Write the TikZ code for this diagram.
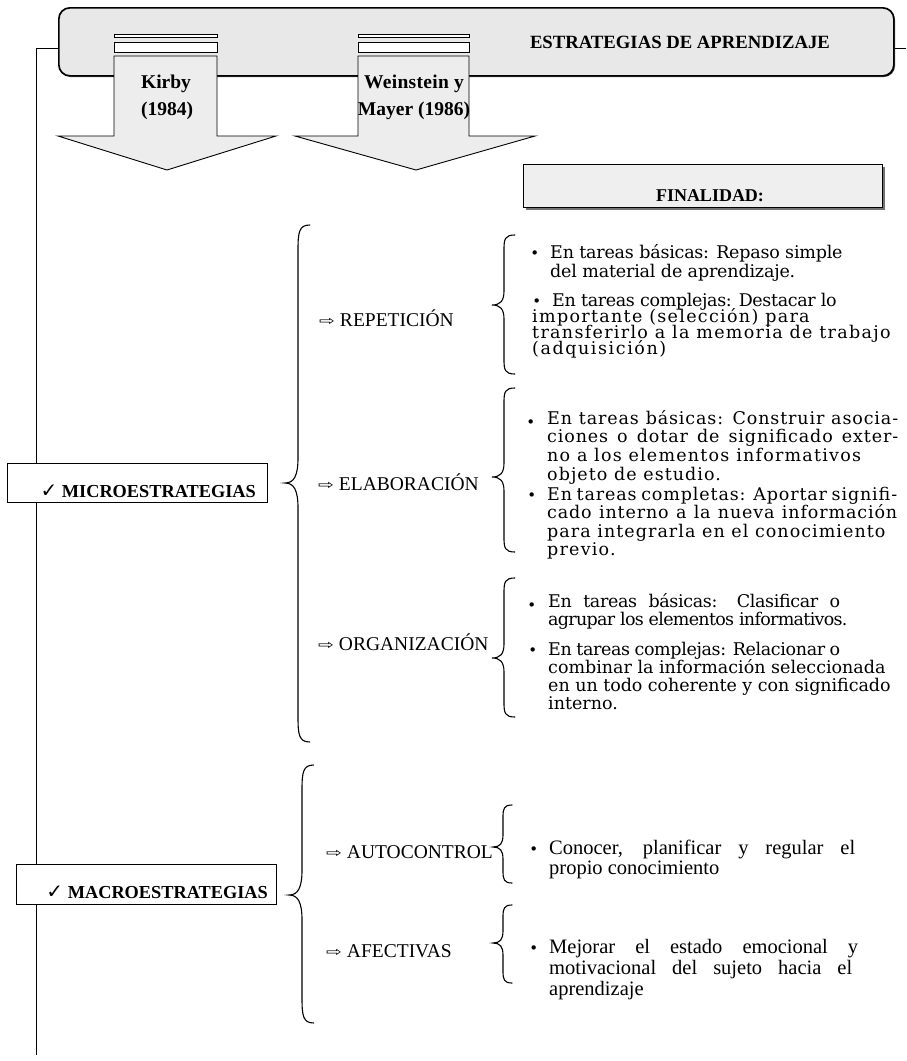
\documentclass[tikz,border=0pt]{standalone}
\usepackage{fontspec}
\setmainfont{Liberation Serif}
\newfontfamily\parafont{DejaVu Serif}
\newfontfamily\symfont{DejaVu Sans}
\definecolor{bannergray}{HTML}{E8E8E9}
\definecolor{arrowgray}{HTML}{EDEDEE}
\definecolor{fingray}{HTML}{EFEFF0}
\newcommand{\warr}{{\symfont\fontsize{13}{13}\selectfont\raisebox{0.5pt}{\scalebox{1.45}[1]{⇨}}}\hskip5pt}
\newcommand{\bul}{\llap{{\symfont\fontsize{15}{15}\selectfont •}\hskip11pt}}
\newcommand{\lbul}{\llap{{\symfont\fontsize{15}{15}\selectfont\raisebox{-3.5pt}{•}}\hskip12pt}}
\newcommand{\pline}[2]{\hbox{\addfontfeature{LetterSpace=#1}#2}}
\newcommand{\plinew}[3]{\hbox to #2{\addfontfeature{LetterSpace=#1}#3}}
\newcommand{\mybrace}[6]{%
 \draw[bracestyle] ({#1+#5*0.9},#2) .. controls ({#1+1},#2) and (#1,{#2+#6*0.3}) .. (#1,{#2+#6}) -- (#1,{#3-#6}) .. controls (#1,{#3-#6*0.3}) and ({#1-#5*0.3},#3) .. ({#1-#5},#3) .. controls ({#1-#5*0.3},#3) and (#1,{#3+#6*0.3}) .. (#1,{#3+#6}) -- (#1,{#4-#6}) .. controls (#1,{#4-#6*0.3}) and ({#1+1},#4) .. ({#1+#5*0.9},#4);}
\begin{document}
\begin{tikzpicture}[x=1pt,y=-1pt,
  bannerstyle/.style={draw=black, line width=1.7pt, rounded corners=11pt, fill=bannergray},
  arrowstyle/.style={draw=black, line width=0.9pt, fill=arrowgray, line join=miter},
  stripestyle/.style={draw=black, line width=0.8pt, fill=white},
  boxstyle/.style={draw=black, line width=0.9pt, fill=white, inner sep=0},
  bracestyle/.style={line width=1.1pt, line cap=round},
  boldtxt/.style={font=\fontsize{19.5}{21}\selectfont\bfseries, inner sep=0, anchor=base},
  lbl/.style={font=\fontsize{19.5}{21}\selectfont, anchor=base west, inner sep=0},
  para/.style={font=\parafont\fontsize{17.5}{17.5}\selectfont, anchor=base west, inner sep=0},
  mpara/.style={font=\fontsize{20.5}{20.5}\selectfont, anchor=base west, inner sep=0},
]
\useasboundingbox (0,0) rectangle (906,1061);
\lineskiplimit=-\maxdimen
% frame line
\coordinate (ltop) at (36,48);
\coordinate (lbot) at (36,1055);
\coordinate (rtop) at (906,48);
\draw[line width=0.9pt] (rtop) -- (ltop) -- (lbot);
% banner
\fill[black!70, rounded corners=11pt] (60,9) rectangle (895,77);
\node[bannerstyle, minimum width=835pt, minimum height=68pt, anchor=north west, inner sep=0] (banner) at (58,7) {};
\node[boldtxt, font=\fontsize{18.7}{21}\selectfont\bfseries] (title) at (680,48) {ESTRATEGIAS DE APRENDIZAJE};
% Kirby arrow
\draw[stripestyle] (114,34) rectangle (217,37);
\draw[stripestyle] (114,42) rectangle (217,52);
\draw[arrowstyle] (114,56) -- (217,56) -- (217,136) -- (276,136) -- (167,170) -- (58,136) -- (114,136) -- cycle;
\node[boldtxt] (kirby1) at (166,88) {Kirby};
\node[boldtxt] (kirby2) at (167,115) {(1984)};
% Weinstein arrow
\draw[stripestyle] (358,34) rectangle (469,37);
\draw[stripestyle] (358,42) rectangle (469,52);
\draw[arrowstyle] (358,56) -- (469,56) -- (469,136) -- (535,136) -- (416,170) -- (295,136) -- (358,136) -- cycle;
\node[boldtxt] (wein1) at (414,88) {\addfontfeature{LetterSpace=1.5}Weinstein y};
\node[boldtxt] (wein2) at (414,115) {Mayer (1986)};
% Finalidad
\fill[black!55] (526,167) rectangle (885,210);
\node[draw=black, line width=0.9pt, fill=fingray, minimum width=359pt, minimum height=43pt, anchor=north west, inner sep=0] (finbox) at (523,164) {};
\node[boldtxt, font=\fontsize{18}{20}\selectfont\bfseries] (fin) at (710,201) {FINALIDAD:};
% Micro / Macro boxes
\node[boxstyle, minimum width=260pt, minimum height=39pt, anchor=north west] (microbox) at (7,463) {};
\node[boldtxt, anchor=base east, font=\fontsize{18.3}{20}\selectfont\bfseries] (micro) at (256,497) {{\symfont\fontsize{20}{20}\selectfont ✓} MICROESTRATEGIAS};
\node[boxstyle, minimum width=260pt, minimum height=40pt, anchor=north west] (macrobox) at (16,864) {};
\node[boldtxt, anchor=base east, font=\fontsize{18.3}{20}\selectfont\bfseries] (macro) at (268,898) {{\symfont\fontsize{20}{20}\selectfont ✓} MACROESTRATEGIAS};
% braces
\mybrace{298}{225}{483}{742}{13}{25}
\mybrace{302}{765}{895}{1023}{13}{25}
\mybrace{504}{235}{305}{374}{12}{14}
\mybrace{504}{388}{477}{552}{12}{14}
\mybrace{504}{578}{658}{717}{12}{14}
\mybrace{503}{805}{847}{883}{10}{12}
\mybrace{503}{905}{943}{983}{10}{12}
% labels
\node[lbl] (rep) at (319,326) {\warr REPETICIÓN};
\node[lbl] (ela) at (318,490) {\warr ELABORACIÓN};
\node[lbl] (org) at (318,650) {\warr ORGANIZACIÓN};
\node[lbl] (aut) at (326,858) {\warr AUTOCONTROL};
\node[lbl] (afe) at (326,957) {\warr AFECTIVAS};
% micro paragraphs
\node[para] (r1) at (550,258) {\vtop{\baselineskip=19pt
  \pline{-1.2}{\bul En tareas básicas: Repaso simple}
  \pline{-1}{del material de aprendizaje.}}};
\node[para] (r2) at (532,306) {\vtop{\baselineskip=16.3pt
  \hbox{\hskip20pt\bul\addfontfeature{LetterSpace=-2}En tareas complejas: Destacar lo}
  \pline{7.5}{importante (selección) para}
  \pline{7.5}{transferirlo a la memoria de trabajo}
  \pline{9}{(adquisición)}}};
\node[para] (e1) at (547,424) {\vtop{\baselineskip=18.7pt
  \plinew{5}{351pt}{\lbul En tareas básicas: Construir asocia-}
  \plinew{5}{351pt}{ciones o dotar de significado exter-}
  \pline{7}{no a los elementos informativos}
  \pline{6}{objeto de estudio.}}};
\node[para] (e2) at (547,500) {\vtop{\baselineskip=18.5pt
  \plinew{5}{350pt}{\bul En tareas completas: Aportar signifi-}
  \plinew{5}{350pt}{cado interno a la nueva información}
  \pline{6}{para integrarla en el conocimiento}
  \pline{7}{previo.}}};
\node[para] (o1) at (548,607) {\vtop{\baselineskip=18pt
  \plinew{-2}{292pt}{\lbul En tareas básicas: Clasificar o}
  \pline{-4}{agrupar los elementos informativos.}}};
\node[para] (o2) at (548,655) {\vtop{\baselineskip=18.3pt
  \plinew{-2}{292pt}{\bul En tareas complejas: Relacionar o}
  \pline{0}{combinar la información seleccionada}
  \pline{-0.3}{en un todo coherente y con significado}
  \pline{0}{interno.}}};
% macro paragraphs
\node[mpara] (m1) at (549,854) {\vtop{\baselineskip=20pt
  \hbox to 306pt{\bul Conocer, planificar y regular el}
  \hbox{propio conocimiento}}};
\node[mpara] (m2) at (549,953) {\vtop{\baselineskip=21pt
  \hbox to 309pt{\bul Mejorar el estado emocional y}
  \hbox to 303pt{motivacional del sujeto hacia el}
  \hbox{aprendizaje}}};
\end{tikzpicture}
\end{document}
